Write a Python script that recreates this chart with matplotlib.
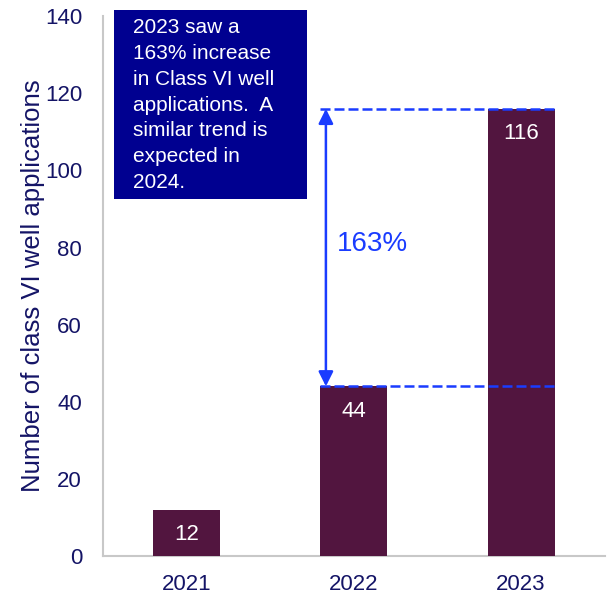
import matplotlib
matplotlib.use('Agg')
import matplotlib.pyplot as plt
from matplotlib.patches import Rectangle

years = ['2021', '2022', '2023']
applications = [12, 44, 116]
increase_label = '163%'
note = ('2023 saw a\n163% increase\nin Class VI well\napplications.  A\n'
        'similar trend is\nexpected in\n2024.')

plt.rcParams['font.family'] = ['Liberation Sans', 'DejaVu Sans']
navy = '#141466'
bar_color = '#52153f'
blue = '#1a3cff'

fig = plt.figure(figsize=(6.09, 5.97), dpi=100)
ax = fig.add_axes([0.169, 0.0687, 0.824, 0.904])

x = range(len(years))
bars = ax.bar(x, applications, width=0.4, color=bar_color, zorder=3)
for xi, v in zip(x, applications):
    ax.annotate(str(v), (xi, v), xytext=(0, -18), textcoords='offset points',
                ha='center', va='center', color='white', fontsize=16, zorder=4)

ax.set_xlim(-0.5, 2.5)
ax.set_ylim(0, 140)
ax.set_yticks(range(0, 141, 20))
ax.set_xticks(list(x))
ax.set_xticklabels(years)
ax.tick_params(length=0, labelsize=16, labelcolor=navy)
ax.tick_params(axis='x', pad=13)
ax.tick_params(axis='y', pad=15)
for s in ['top', 'right']:
    ax.spines[s].set_visible(False)
for s in ['left', 'bottom']:
    ax.spines[s].set_color('#c8c8c8')
    ax.spines[s].set_linewidth(1.5)
ax.set_ylabel('Number of class VI well applications', fontsize=18.5, color=navy, labelpad=0)

# growth marker between 2022 and 2023
lo, hi = applications[1], applications[2]
x0, x1 = 1 - 0.2, 2 + 0.2
ax.hlines([lo, hi], x0, x1, colors=blue, linestyles=(0, (4, 1.6)), linewidth=1.8, zorder=5)
ax.annotate('', xy=(0.833, hi), xytext=(0.833, lo),
            arrowprops=dict(arrowstyle='<|-|>', color=blue, lw=1.8,
                            mutation_scale=22, shrinkA=0, shrinkB=0), zorder=5)
ax.text(0.9, 81, increase_label, color=blue, fontsize=20, va='center', ha='left')

# note box
ax.add_patch(Rectangle((-0.434, 92.6), 1.153, 49.0, facecolor='#000090',
                       edgecolor='none', clip_on=False, zorder=6))
ax.text(-0.322, 139.6, note, color='white', fontsize=15, va='top', ha='left',
        linespacing=1.46, zorder=7)

fig.savefig('out.png', dpi=100)
